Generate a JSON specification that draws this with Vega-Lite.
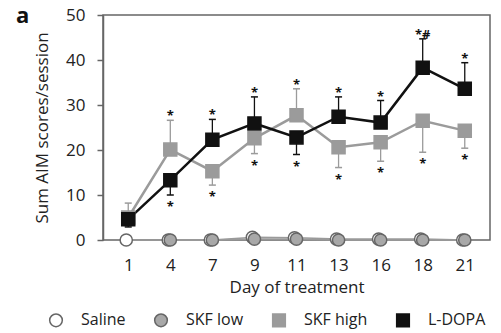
{
  "$schema": "https://vega.github.io/schema/vega-lite/v6.json",
  "width": 387,
  "height": 225,
  "autosize": {"type": "none"},
  "padding": {"left": 103, "top": 15, "right": 11, "bottom": 93},
  "background": "white",
  "title": {"text": "a", "anchor": "start", "frame": "group", "fontSize": 22, "fontWeight": "bold", "font": "Open Sans", "color": "#111", "dx": -87, "dy": 39, "offset": 0, "baseline": "alphabetic"},
  "config": {
    "view": {"stroke": "#666", "strokeWidth": 1.5},
    "font": "Open Sans",
    "axis": {"labelFont": "Open Sans", "titleFont": "Open Sans", "labelColor": "#222", "titleColor": "#222", "grid": false, "labelFontSize": 17, "titleFontSize": 17, "titleFontWeight": "normal"},
    "legend": {"labelFont": "Open Sans", "labelFontSize": 16, "labelColor": "#222"}
  },
  "data": {"values": [
    {"day": 1, "series": "Saline", "mean": 0},
    {"day": 4, "series": "Saline", "mean": 0},
    {"day": 7, "series": "Saline", "mean": 0},
    {"day": 9, "series": "Saline", "mean": 0.6},
    {"day": 11, "series": "Saline", "mean": 0.5},
    {"day": 13, "series": "Saline", "mean": 0.2},
    {"day": 16, "series": "Saline", "mean": 0.2},
    {"day": 18, "series": "Saline", "mean": 0.2},
    {"day": 21, "series": "Saline", "mean": 0},
    {"day": 4, "series": "SKF low", "mean": 0},
    {"day": 7, "series": "SKF low", "mean": 0},
    {"day": 9, "series": "SKF low", "mean": 0.2},
    {"day": 11, "series": "SKF low", "mean": 0.2},
    {"day": 13, "series": "SKF low", "mean": 0},
    {"day": 16, "series": "SKF low", "mean": 0},
    {"day": 18, "series": "SKF low", "mean": 0},
    {"day": 21, "series": "SKF low", "mean": 0},
    {"day": 1, "series": "SKF high", "mean": 5.0, "err": 8.2, "dir": "up", "star": ""},
    {"day": 4, "series": "SKF high", "mean": 20.1, "err": 26.6, "dir": "up", "star": "*"},
    {"day": 7, "series": "SKF high", "mean": 15.3, "err": 12.2, "dir": "down", "star": "*"},
    {"day": 9, "series": "SKF high", "mean": 22.6, "err": 19.2, "dir": "down", "star": "*"},
    {"day": 11, "series": "SKF high", "mean": 27.7, "err": 33.6, "dir": "up", "star": "*"},
    {"day": 13, "series": "SKF high", "mean": 20.6, "err": 16.1, "dir": "down", "star": "*"},
    {"day": 16, "series": "SKF high", "mean": 21.7, "err": 17.5, "dir": "down", "star": "*"},
    {"day": 18, "series": "SKF high", "mean": 26.5, "err": 19.5, "dir": "down", "star": "*"},
    {"day": 21, "series": "SKF high", "mean": 24.3, "err": 20.4, "dir": "down", "star": "*"},
    {"day": 1, "series": "L-DOPA", "mean": 4.6, "err": 2.9, "dir": "down", "star": ""},
    {"day": 4, "series": "L-DOPA", "mean": 13.3, "err": 10.0, "dir": "down", "star": "*"},
    {"day": 7, "series": "L-DOPA", "mean": 22.3, "err": 26.8, "dir": "up", "star": "*"},
    {"day": 9, "series": "L-DOPA", "mean": 25.9, "err": 31.8, "dir": "up", "star": "*"},
    {"day": 11, "series": "L-DOPA", "mean": 22.8, "err": 19.0, "dir": "down", "star": "*"},
    {"day": 13, "series": "L-DOPA", "mean": 27.4, "err": 31.8, "dir": "up", "star": "*"},
    {"day": 16, "series": "L-DOPA", "mean": 26.1, "err": 31.0, "dir": "up", "star": "*"},
    {"day": 18, "series": "L-DOPA", "mean": 38.3, "err": 44.7, "dir": "up", "star": "*#"},
    {"day": 21, "series": "L-DOPA", "mean": 33.6, "err": 39.4, "dir": "up", "star": "*"}
  ]},
  "encoding": {
    "x": {"field": "day", "type": "ordinal", "scale": {"type": "point", "padding": 0.6},
      "axis": {"title": "Day of treatment", "labelAngle": 0, "ticks": false, "tickSize": 0, "domain": false, "labelPadding": 17, "titlePadding": 6}},
    "y": {"field": "mean", "type": "quantitative", "scale": {"domain": [0, 50], "nice": false},
      "axis": {"title": "Sum AIM scores/session", "values": [0, 10, 20, 30, 40, 50], "tickSize": 6, "tickWidth": 1.5, "tickColor": "#666", "domainColor": "#666", "domainWidth": 1.5, "labelPadding": 12, "titlePadding": 14}}
  },
  "layer": [
    {
      "transform": [{"filter": "datum.series === 'Saline' || datum.series === 'SKF low'"}],
      "mark": {"type": "line", "stroke": "#9a9a9a", "strokeWidth": 1.5},
      "encoding": {"detail": {"field": "series"}}
    },
    {
      "transform": [{"filter": "datum.series === 'Saline'"}],
      "mark": {"type": "point", "shape": "circle", "filled": true, "fill": "#ffffff", "stroke": "#666666", "size": 150, "strokeWidth": 1.5, "opacity": 1, "xOffset": -2},
      "encoding": {}
    },
    {
      "transform": [{"filter": "datum.series === 'SKF high'"}],
      "mark": {"type": "rule", "strokeWidth": 1.3, "stroke": "#9b9b9b"},
      "encoding": {"y2": {"field": "err"}}
    },
    {
      "transform": [{"filter": "datum.series === 'SKF high'"}],
      "mark": {"type": "tick", "orient": "horizontal", "size": 7, "thickness": 1.5, "opacity": 1, "color": "#9b9b9b"},
      "encoding": {"y": {"field": "err", "type": "quantitative"}}
    },
    {
      "transform": [{"filter": "datum.series === 'SKF high'"}],
      "mark": {"type": "line", "strokeWidth": 2.5, "stroke": "#9b9b9b"},
      "encoding": {}
    },
    {
      "transform": [{"filter": "datum.series === 'L-DOPA'"}],
      "mark": {"type": "rule", "strokeWidth": 1.3, "stroke": "#111"},
      "encoding": {"y2": {"field": "err"}}
    },
    {
      "transform": [{"filter": "datum.series === 'L-DOPA'"}],
      "mark": {"type": "tick", "orient": "horizontal", "size": 7, "thickness": 1.5, "opacity": 1, "color": "#111"},
      "encoding": {"y": {"field": "err", "type": "quantitative"}}
    },
    {
      "transform": [{"filter": "datum.series === 'L-DOPA'"}],
      "mark": {"type": "line", "strokeWidth": 2.5, "stroke": "#111"},
      "encoding": {}
    },
    {
      "transform": [{"filter": "datum.series !== 'Saline'"}],
      "mark": {"type": "point", "filled": true, "strokeWidth": 1.5, "opacity": 1},
      "encoding": {
        "shape": {"field": "series", "type": "nominal",
          "scale": {"domain": ["Saline", "SKF low", "SKF high", "L-DOPA"], "range": ["circle", "circle", "square", "square"]},
          "legend": {"title": null, "orient": "none", "legendX": -55, "legendY": 297, "direction": "horizontal", "columns": 4, "columnPadding": 25, "symbolSize": 160, "symbolStrokeWidth": 1.5, "labelOffset": 17}},
        "fill": {"field": "series", "type": "nominal",
          "scale": {"domain": ["Saline", "SKF low", "SKF high", "L-DOPA"], "range": ["#ffffff", "#a8a8a8", "#9b9b9b", "#111111"]},
          "legend": {"title": null, "orient": "none", "legendX": -55, "legendY": 297, "direction": "horizontal", "columns": 4, "columnPadding": 25, "symbolSize": 160, "symbolStrokeWidth": 1.5, "labelOffset": 17}},
        "stroke": {"field": "series", "type": "nominal",
          "scale": {"domain": ["Saline", "SKF low", "SKF high", "L-DOPA"], "range": ["#666666", "#666666", "#9b9b9b", "#111111"]},
          "legend": {"title": null, "orient": "none", "legendX": -55, "legendY": 297, "direction": "horizontal", "columns": 4, "columnPadding": 25, "symbolSize": 160, "symbolStrokeWidth": 1.5, "labelOffset": 17}},
        "size": {"condition": {"test": "datum.series === 'SKF low'", "value": 150}, "value": 169}
      }
    },
    {
      "transform": [{"filter": "datum.dir === 'up'"}],
      "mark": {"type": "text", "fontSize": 13, "fontWeight": "bold", "color": "#111", "baseline": "alphabetic", "dy": 0},
      "encoding": {"y": {"field": "err", "type": "quantitative"}, "text": {"field": "star"}}
    },
    {
      "transform": [{"filter": "datum.dir === 'down'"}],
      "mark": {"type": "text", "fontSize": 13, "fontWeight": "bold", "color": "#111", "baseline": "alphabetic", "dy": 16},
      "encoding": {"y": {"field": "err", "type": "quantitative"}, "text": {"field": "star"}}
    }
  ]
}
